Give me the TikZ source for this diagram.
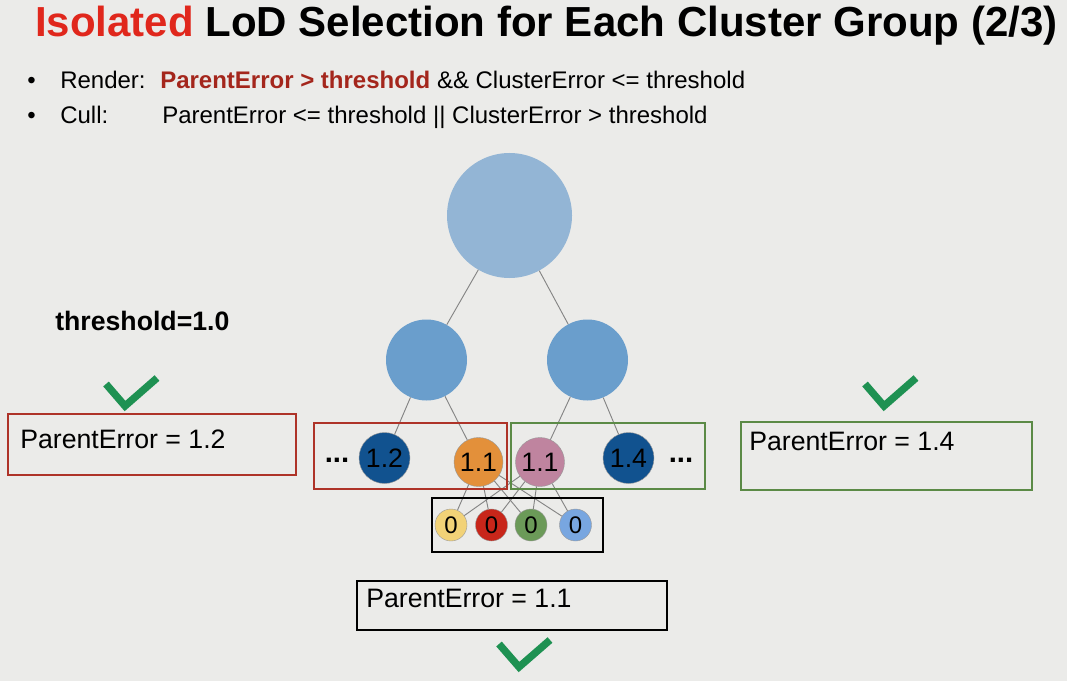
\documentclass[tikz,border=0pt]{standalone}
\usepackage{fontspec}
\setmainfont{Liberation Sans}
\usetikzlibrary{calc}

\definecolor{slidebg}{HTML}{EBEBE9}
\definecolor{titlered}{HTML}{E0271C}
\definecolor{rulered}{HTML}{A4261C}
\definecolor{boxred}{HTML}{AE3328}
\definecolor{boxgreen}{HTML}{5B8A46}
\definecolor{okgreen}{HTML}{1E9152}
\definecolor{linkgray}{HTML}{858585}
\definecolor{rootblue}{HTML}{93B5D5}
\definecolor{midblue}{HTML}{6A9ECC}
\definecolor{deepblue}{HTML}{11528F}
\definecolor{lodorange}{HTML}{E3903A}
\definecolor{lodpink}{HTML}{BF849F}
\definecolor{leafyellow}{HTML}{F2D277}
\definecolor{leafred}{HTML}{C8261A}
\definecolor{leafgreen}{HTML}{6B9A58}
\definecolor{leafblue}{HTML}{78A6E0}

\tikzset{
  txt/.style={anchor=base west, inner sep=0pt, font=\fontsize{18}{21}\selectfont},
  boxtxt/.style={anchor=base west, inner sep=0pt, font=\fontsize{20}{24}\selectfont},
  ball/.style={circle, inner sep=0pt, minimum size=#1, draw=white!60!black, line width=0.3pt},
  lod/.style={font=\fontsize{20}{22}\selectfont},
  leaf/.style={ball=24pt, font=\fontsize{18}{21}\selectfont},
  link/.style={draw=linkgray, line width=0.7pt},
  frame/.style={draw=#1, line width=2.2pt, inner sep=0pt},
  okmark/.style={draw=okgreen, line width=5.5pt},
  more/.style={inner sep=0pt, font=\fontsize{22}{24}\selectfont\bfseries},
}

\begin{document}
\begin{tikzpicture}[x=0.75pt, y=-0.75pt]
    \fill[slidebg] (0,0) rectangle (1067,681);
    \useasboundingbox (0,0) rectangle (1067,681);

    % title and rules
    \node[anchor=base west, inner sep=0pt, font=\fontsize{31.5}{36}\selectfont\bfseries] (title) at (35,37)
        {\textcolor{titlered}{Isolated} LoD Selection for Each Cluster Group (2/3)};
    \node[txt] (dot1) at (27,89) {\textbullet};
    \node[txt] (dot2) at (27,124) {\textbullet};
    \node[txt] (render) at (60,89) {Render:};
    \node[txt] (rendercond) at (160,89) {\textcolor{rulered}{\bfseries ParentError > threshold} \&\& ClusterError <= threshold};
    \node[txt] (cull) at (60,124) {Cull:};
    \node[txt] (cullcond) at (162,124) {ParentError <= threshold || ClusterError > threshold};

    \node[boxtxt, font=\fontsize{20}{24}\selectfont\bfseries] (thr) at (55,330) {threshold=1.0};

    % cluster tree
    \node[ball=93.75pt, fill=rootblue, draw=none] (root) at (509.5,215.5) {};
    \node[ball=60.75pt, fill=midblue, draw=none] (lft) at (426.5,360) {};
    \node[ball=60.75pt, fill=midblue, draw=none] (rgt) at (587.5,360) {};

    \node[ball=38.25pt, fill=deepblue, lod] (a12) at (384.5,458) {1.2};
    \node[ball=36.75pt, fill=lodorange, lod] (a11) at (478.5,462) {1.1};
    \node[ball=36.75pt, fill=lodpink, lod] (b11) at (540,462) {1.1};
    \node[ball=38.25pt, fill=deepblue, lod] (b14) at (628.5,458) {1.4};

    \node[leaf, fill=leafyellow] (y0) at (451,525) {0};
    \node[leaf, fill=leafred] (r0) at (491.5,525) {0};
    \node[leaf, fill=leafgreen] (g0) at (531,525) {0};
    \node[leaf, fill=leafblue] (u0) at (575.5,525) {0};

    \node[more] (dotsL) at (337,460) {...};
    \node[more] (dotsR) at (681,460) {...};

    \draw[link] (root) -- (lft);
    \draw[link] (root) -- (rgt);
    \draw[link] (lft) -- (a12);
    \draw[link] (lft) -- (a11);
    \draw[link] (rgt) -- (b11);
    \draw[link] (rgt) -- (b14);
    \foreach \p in {a11,b11}
      \foreach \c in {y0,r0,g0,u0}
        \draw[link] (\p) -- (\c);

    % group frames
    \node[frame=boxred, minimum width=144.75pt, minimum height=49.5pt] (grpL) at (410.5,456) {};
    \node[frame=boxgreen, minimum width=145.5pt, minimum height=49.5pt] (grpR) at (608,456) {};
    \node[frame=black, minimum width=128.25pt, minimum height=40.5pt] (grpC) at (517.5,525) {};

    % parent error boxes
    \node[frame=boxred, minimum width=216pt, minimum height=45.75pt] (pe12) at (152,444.5) {};
    \node[boxtxt] (pe12txt) at (20,448) {ParentError = 1.2};
    \node[frame=boxgreen, minimum width=218.25pt, minimum height=51pt] (pe14) at (886.5,456) {};
    \node[boxtxt] (pe14txt) at (749,450) {ParentError = 1.4};
    \node[frame=black, minimum width=232.5pt, minimum height=36.75pt] (pe11) at (512,605.5) {};
    \node[boxtxt] (pe11txt) at (366,607) {ParentError = 1.1};

    % check marks
    \draw[okmark] (106,384) -- (125,406) -- (157,378);
    \draw[okmark] (865,384) -- (884,406) -- (916,378);
    \draw[okmark] (499,644) -- (519,667) -- (550,640);
\end{tikzpicture}
\end{document}
